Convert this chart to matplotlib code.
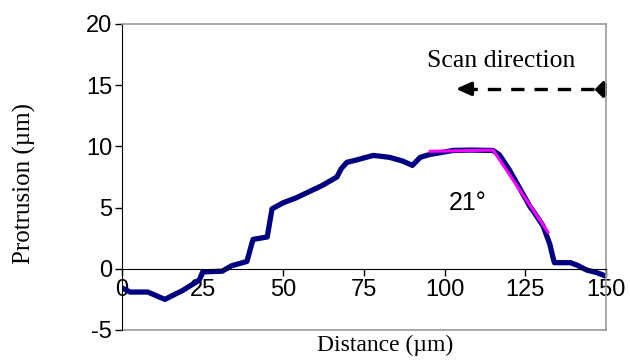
import matplotlib
matplotlib.use("Agg")
import matplotlib.pyplot as plt
import numpy as np

plt.rcParams["axes.unicode_minus"] = False

# profile
distance = [0.3, 2.5, 8, 13.3, 15.5, 18.6, 22.6, 24, 25, 31, 34, 38.7, 40.6,
            45, 46.5, 50, 54, 58, 62, 66.6, 68, 69.7, 72.8, 77.8, 80, 83,
            87, 90, 92.4, 95.5, 99, 102.6, 108, 115, 117, 120, 123, 126.4,
            128, 130.5, 132.6, 133.5, 134, 139, 141, 144, 147, 150]
protrusion = [-1.6, -1.9, -1.9, -2.5, -2.2, -1.8, -1.15, -0.9, -0.25, -0.2,
              0.25, 0.6, 2.4, 2.6, 4.9, 5.4, 5.8, 6.3, 6.8, 7.5, 8.2, 8.7,
              8.9, 9.26, 9.2, 9.1, 8.8, 8.45, 9.1, 9.35, 9.5, 9.67, 9.7, 9.67,
              9.3, 8.1, 6.7, 5.1, 4.5, 3.5, 2.0, 1.0, 0.5, 0.5, 0.3, -0.1,
              -0.3, -0.6]

fit_x = [95.5, 115, 132]
fit_y = [9.6, 9.7, 3.0]

x_ticks = [0, 25, 50, 75, 100, 125, 150]
y_ticks = [-5, 0, 5, 10, 15, 20]

sans = "Liberation Sans"
serif = "Liberation Serif"

fig = plt.figure(figsize=(6.3, 3.6), dpi=100)
ax = fig.add_axes([122/630, 1-330/360, 484/630, 306/360])

ax.plot(distance, protrusion, color="#000080", lw=3.8, solid_joinstyle="round")
ax.plot(fit_x, fit_y, color="#FF00FF", lw=2.2)

ax.set_xlim(0, 150)
ax.set_ylim(-5, 20)
ax.set_xticks(x_ticks)
ax.set_yticks(y_ticks)

ax.spines["bottom"].set_position(("data", 0))
ax.spines["bottom"].set_color("black")
ax.spines["left"].set_color("black")
for s in ["top", "right"]:
    ax.spines[s].set_color("#999999")
    ax.spines[s].set_linewidth(1.2)
ax.plot([0, 1], [0, 0], transform=ax.transAxes, color="#999999", lw=1.2,
        clip_on=False)

ax.tick_params(axis="both", direction="out", length=5, width=1,
               labelsize=17, pad=2)
for lab in ax.get_xticklabels() + ax.get_yticklabels():
    lab.set_fontfamily(sans)

ax.text(107, 5.4, "21°", fontsize=18, family=sans, ha="center", va="center")
ax.text(117.5, 17.0, "Scan direction", fontsize=18.5, family=serif,
        ha="center", va="center")
ax.plot([106, 149], [14.7, 14.7], color="black", lw=2.4, ls=(0, (4, 3)))
ax.plot([149], [14.7], marker="D", color="black", ms=8)
ax.annotate("", xy=(102.6, 14.7), xytext=(109, 14.7),
            arrowprops=dict(arrowstyle="-|>,head_length=0.9,head_width=0.4",
                            color="black", lw=2.4))

fig.text(385/630, 1-345/360, "Distance (µm)", fontsize=17, family=serif,
         ha="center", va="center")
fig.text(24/630, 1-183/360, "Protrusion (µm)", fontsize=18, family=serif,
         ha="center", va="center", rotation=90)

fig.savefig("out.png", dpi=100)
